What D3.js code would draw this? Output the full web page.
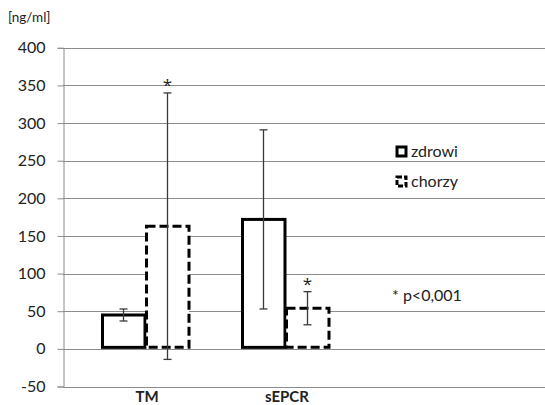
<!DOCTYPE html>
<html><head><meta charset="utf-8">
<script src="https://cdn.jsdelivr.net/npm/d3@7"></script>
<style>body{margin:0;background:#fff}svg{display:block;font-family:Lato,"Open Sans",sans-serif}</style>
</head><body><svg id="c" width="545" height="405"></svg>
<script>
const categories = ["TM", "sEPCR"];
const seriesNames = ["zdrowi", "chorzy"];
const zdrowiValues = [45, 172];
const zdrowiErrors = [8, 119];
const chorzyValues = [163, 54];
const chorzyErrors = [177, 22];
const chorzySignificant = [true, true];
const yTicks = [-50, 0, 50, 100, 150, 200, 250, 300, 350, 400];
const unitLabel = "[ng/ml]";
const noteLabel = "* p<0,001";

const svg = d3.select("#c");
const y = d3.scaleLinear().domain([-50, 400]).range([386.5, 47.8]);
const x = d3.scaleBand().domain(categories).range([75, 355]).paddingInner(0).paddingOuter(0);
const sub = d3.scaleBand().domain(seriesNames).range([0, 88]);
const groupOffset = (x.bandwidth() - 88) / 2;
const left = 63, right = 545;

svg.append("g").selectAll("line").data(yTicks).join("line")
  .attr("x1", left).attr("x2", right)
  .attr("y1", d => Math.round(y(d)) + 0.5).attr("y2", d => Math.round(y(d)) + 0.5)
  .attr("stroke", "#8c8c8c").attr("stroke-width", 1);

const ax = svg.append("g").attr("transform", `translate(${left + 0.5},0)`)
  .call(d3.axisLeft(y).tickValues(yTicks).tickSize(6).tickPadding(12).tickFormat(d => String(d)));
ax.select(".domain").attr("stroke", "#8c8c8c");
ax.selectAll(".tick line").attr("stroke", "#8c8c8c");
ax.selectAll(".tick text").attr("font-size", 16).attr("fill", "#222").attr("font-family", "Lato, sans-serif");

svg.append("text").attr("x", 8).attr("y", 22).attr("font-size", 13.5).attr("fill", "#222").text(unitLabel);

const rows = [];
categories.forEach((c, i) => {
  rows.push({cat: c, s: "zdrowi", v: zdrowiValues[i], e: zdrowiErrors[i], sig: false});
  rows.push({cat: c, s: "chorzy", v: chorzyValues[i], e: chorzyErrors[i], sig: chorzySignificant[i]});
});

const bx = d => x(d.cat) + groupOffset + sub(d.s);
const bars = svg.append("g");
rows.forEach(d => {
  bars.append("rect")
    .attr("x", bx(d) + 1.5).attr("y", y(d.v))
    .attr("width", sub.bandwidth() - 1.5).attr("height", y(0) - y(d.v) - 1.5)
    .attr("fill", "#fff").attr("stroke", "#000").attr("stroke-width", 3)
    .attr("stroke-dasharray", d.s === "chorzy" ? "9,4" : null);
});

const eg = svg.append("g").attr("stroke", "#3a3a3a").attr("stroke-width", 1.3);
rows.forEach(d => {
  const cx = Math.round(bx(d) + sub.bandwidth() / 2) + 0.5;
  const t = y(d.v + d.e), b = y(d.v - d.e);
  eg.append("line").attr("x1", cx).attr("x2", cx).attr("y1", t).attr("y2", b);
  eg.append("line").attr("x1", cx - 4).attr("x2", cx + 4).attr("y1", t).attr("y2", t);
  eg.append("line").attr("x1", cx - 4).attr("x2", cx + 4).attr("y1", b).attr("y2", b);
  if (d.sig) {
    svg.append("text").attr("x", cx).attr("y", t - 2).attr("text-anchor", "middle")
      .attr("font-family", "'Open Sans', sans-serif")
      .attr("font-size", 17).attr("fill", "#222").text("*");
  }
});

svg.append("g").selectAll("text").data(categories).join("text")
  .attr("x", d => x(d) + x.bandwidth() / 2 + 2).attr("y", 402)
  .attr("text-anchor", "middle").attr("font-size", 15).attr("font-weight", "bold").attr("fill", "#222")
  .text(d => d);

const lg = svg.append("g");
seriesNames.forEach((s, i) => {
  const yy = 145 + i * 30;
  lg.append("rect").attr("x", 397).attr("y", yy + 2).attr("width", 9).attr("height", 9)
    .attr("fill", "#fff").attr("stroke", "#000").attr("stroke-width", 3)
    .attr("stroke-dasharray", s === "chorzy" ? "5,2" : null);
  lg.append("text").attr("x", 411).attr("y", yy + 12).attr("font-size", 16).attr("fill", "#222").text(s);
});
svg.append("text").attr("x", 392).attr("y", 301).attr("font-size", 16).attr("fill", "#222").text(noteLabel);
</script></body></html>
